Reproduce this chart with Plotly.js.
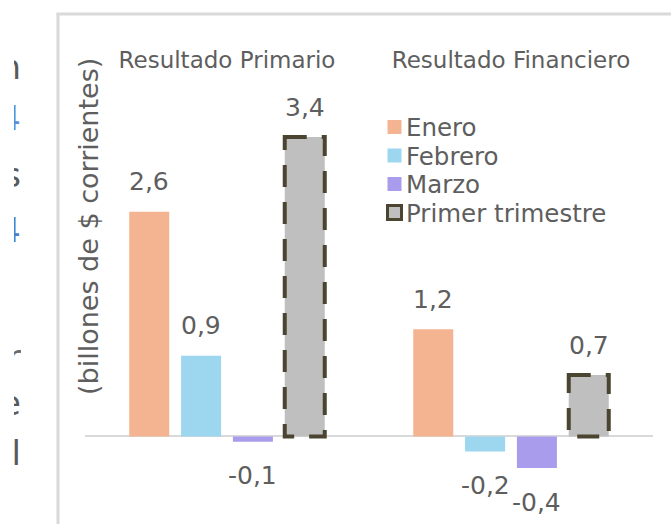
<!DOCTYPE html>
<html>
<head>
<meta charset="utf-8">
<script src="https://cdn.plot.ly/plotly-3.0.1.min.js"></script>
<style>html,body{margin:0;padding:0;background:#fff;}#chart{width:671px;height:524px;}</style>
</head>
<body>
<div id="chart"></div>
<script>
// ---- data ----
const categories = ['Resultado Primario', 'Resultado Financiero'];
const seriesNames = ['Enero', 'Febrero', 'Marzo', 'Primer trimestre'];
const enero = [2.56, 1.22];
const febrero = [0.92, -0.17];
const marzo = [-0.06, -0.36];
const trimestre = [3.41, 0.70];
const yAxisTitle = '(billones de $ corrientes)';
const edgeFragments = ['n', '4', 's', '4', 'r', 'e', 'l'];

// ---- style / layout constants ----
const FONT = 'DejaVu Sans';
const TXT = '#5e5e5e';
const fills = ['#f4b491', '#9dd6ef', '#a99cec', '#bfbfbf'];
const dashColor = '#4b4430';
const W = 671, H = 524;
const M = {l: 85, r: 18, t: 80, b: 10};
const PW = W - M.l - M.r, PH = H - M.t - M.b;
const BARGAP = 0.27, GROUPGAP = 0.228;
const yRange = [-0.883, 4.06];

const px2x = p => (p - M.l) / PW;
const py2y = p => (M.t + PH - p) / PH;

const allSeries = [enero, febrero, marzo, trimestre];
const xs = categories.map((c, i) => i);
const nT = allSeries.length;
const slot = (1 - BARGAP) / nT;
const bw = slot * (1 - GROUPGAP);
const off = i => -(1 - BARGAP) / 2 + (i + 0.5) * slot;

const traces = allSeries.map((vals, i) => ({
  type: 'bar', name: seriesNames[i], x: xs, y: vals,
  marker: {color: fills[i], line: {width: 0}},
  hoverinfo: 'skip', showlegend: false
}));

const fmt = v => v.toFixed(1).replace('.', ',');
const annotations = [];
// data labels
allSeries.forEach((vals, i) => {
  vals.forEach((v, j) => {
    annotations.push({
      xref: 'x', yref: 'y', x: xs[j] + off(i), y: v,
      text: fmt(v), showarrow: false, xanchor: 'center', yanchor: 'middle',
      yshift: v >= 0 ? 30 : -34,
      font: {family: FONT, size: 25, color: TXT}
    });
  });
});
// y title
annotations.push({
  xref: 'paper', yref: 'paper', x: px2x(88), y: py2y(227),
  text: yAxisTitle, textangle: -90, showarrow: false,
  xanchor: 'center', yanchor: 'middle',
  font: {family: FONT, size: 27, color: TXT}
});
// legend (manual, tight spacing)
const shapes = [];
seriesNames.forEach((n, i) => {
  const cy = 127 + 28.5 * i;
  annotations.push({
    xref: 'paper', yref: 'paper', x: px2x(405), y: py2y(cy),
    text: n, showarrow: false, xanchor: 'left', yanchor: 'middle',
    height: 26, valign: 'middle', borderpad: 0,
    font: {family: FONT, size: 24.5, color: TXT}
  });
  shapes.push({
    type: 'rect', xref: 'paper', yref: 'paper',
    x0: px2x(387.5), x1: px2x(401.5), y0: py2y(cy + 7), y1: py2y(cy - 7),
    fillcolor: fills[i],
    line: i === 3 ? {color: dashColor, width: 3} : {width: 0}
  });
});
// dashed outline of Primer trimestre bars
trimestre.forEach((v, j) => {
  const c = xs[j] + off(3);
  shapes.push({
    type: 'rect', xref: 'x', yref: 'y', layer: 'above',
    x0: c - bw / 2, x1: c + bw / 2, y0: v, y1: 0,
    line: {color: dashColor, width: 4, dash: '22px,15px'}
  });
});
// outer frame of the screenshot
shapes.push({type: 'line', xref: 'paper', yref: 'paper', x0: px2x(58), x1: px2x(58), y0: py2y(13), y1: py2y(540), line: {color: '#d9d9d9', width: 3}});
shapes.push({type: 'line', xref: 'paper', yref: 'paper', x0: px2x(56.5), x1: px2x(690), y0: py2y(14), y1: py2y(14), line: {color: '#d9d9d9', width: 3}});
// clipped glyph slivers at left edge
const fragY = [67, 118, 175, 230, 357, 403, 453];
const fragC = ['#5a5a5a', '#5b8fd0', '#5a5a5a', '#4f7fc0', '#6a6a6a', '#5a5a5a', '#5a5a5a'];
edgeFragments.forEach((t, i) => {
  annotations.push({
    xref: 'paper', yref: 'paper', x: px2x(13), y: py2y(fragY[i]),
    text: t, showarrow: false, xanchor: 'left', yanchor: 'middle',
    width: 7, height: 40, align: 'right', borderpad: 0,
    font: {family: FONT, size: 34, color: fragC[i]}
  });
});

const layout = {
  width: W, height: H,
  margin: {l: M.l, r: M.r, t: M.t, b: M.b, autoexpand: false},
  paper_bgcolor: '#fff', plot_bgcolor: '#fff',
  barmode: 'group', bargap: BARGAP, bargroupgap: GROUPGAP,
  showlegend: false,
  xaxis: {
    type: 'linear', range: [-0.5, 1.5], side: 'top',
    tickvals: xs, ticktext: categories, ticks: '', showgrid: false,
    zeroline: false, showline: false, ticklabelstandoff: 6,
    tickfont: {family: FONT, size: 23, color: TXT}, fixedrange: true
  },
  yaxis: {
    range: yRange, showticklabels: false, ticks: '', showgrid: false,
    zeroline: true, zerolinecolor: '#d9d9d9', zerolinewidth: 2,
    showline: false, fixedrange: true
  },
  annotations: annotations,
  shapes: shapes
};

Plotly.newPlot('chart', traces, layout, {displayModeBar: false, staticPlot: true});
</script>
</body>
</html>
